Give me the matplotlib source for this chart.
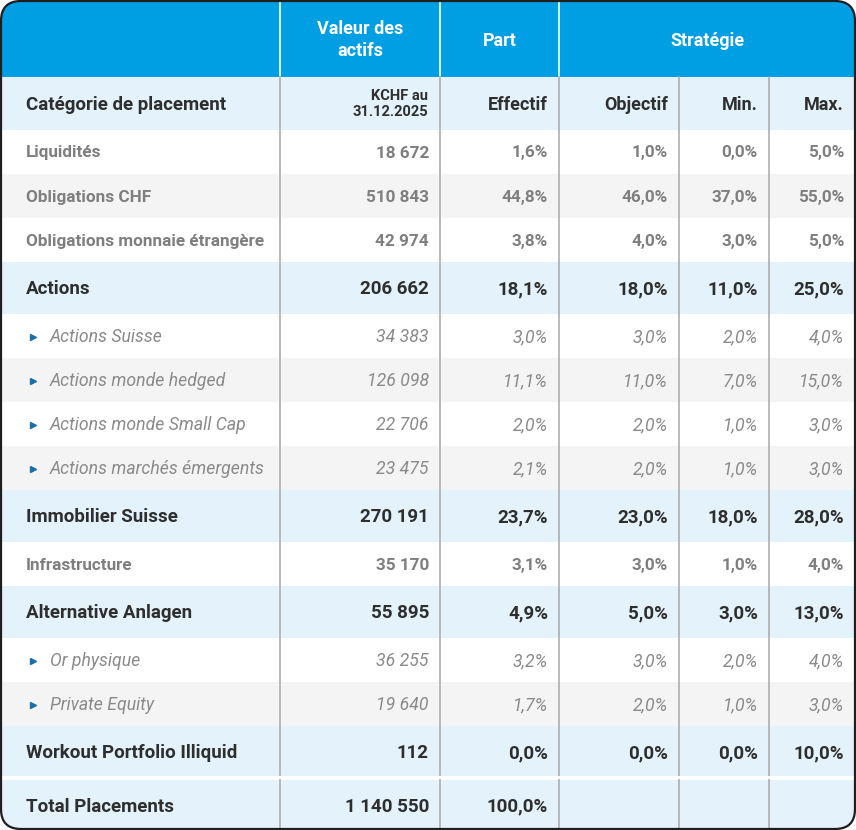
import matplotlib.pyplot as plt
from matplotlib.patches import FancyBboxPatch, Rectangle

plt.rcParams['font.family'] = ['Roboto', 'DejaVu Sans']

# donnees du tableau
categories = ['Liquidités', 'Obligations CHF', 'Obligations monnaie étrangère', 'Actions',
              'Actions Suisse', 'Actions monde hedged', 'Actions monde Small Cap',
              'Actions marchés émergents', 'Immobilier Suisse', 'Infrastructure',
              'Alternative Anlagen', 'Or physique', 'Private Equity',
              'Workout Portfolio Illiquid', 'Total Placements']
# 0 = ligne simple, 1 = groupe (gras), 2 = sous-ligne (italique)
kinds = [0, 0, 0, 1, 2, 2, 2, 2, 1, 0, 1, 2, 2, 1, 1]
valeurs = ['18 672', '510 843', '42 974', '206 662', '34 383', '126 098', '22 706', '23 475',
           '270 191', '35 170', '55 895', '36 255', '19 640', '112', '1 140 550']
effectif = ['1,6%', '44,8%', '3,8%', '18,1%', '3,0%', '11,1%', '2,0%', '2,1%',
            '23,7%', '3,1%', '4,9%', '3,2%', '1,7%', '0,0%', '100,0%']
objectif = ['1,0%', '46,0%', '4,0%', '18,0%', '3,0%', '11,0%', '2,0%', '2,0%',
            '23,0%', '3,0%', '5,0%', '3,0%', '2,0%', '0,0%', '']
mins = ['0,0%', '37,0%', '3,0%', '11,0%', '2,0%', '7,0%', '1,0%', '1,0%',
        '18,0%', '1,0%', '3,0%', '2,0%', '1,0%', '0,0%', '']
maxs = ['5,0%', '55,0%', '5,0%', '25,0%', '4,0%', '15,0%', '3,0%', '3,0%',
        '28,0%', '4,0%', '13,0%', '4,0%', '3,0%', '10,0%', '']

W, H = 856, 830
col_x = [0, 280, 440, 559, 679, 769, 855]
BLUE = '#009fe3'
LIGHT = '#e4f3fb'
GRAY_BG = '#f4f4f4'
LINE = '#a8a8a8'
DARK = '#2e2e2e'
MID = '#7f7f7f'

fig = plt.figure(figsize=(W / 100, H / 100), dpi=100)
ax = fig.add_axes([0, 0, 1, 1])
ax.set_xlim(0, W)
ax.set_ylim(H, 0)
ax.axis('off')

frame = FancyBboxPatch((1, 1), W - 2, H - 2, boxstyle='round,pad=0,rounding_size=20',
                       facecolor='white', edgecolor='none', zorder=0)
ax.add_patch(frame)

def cell(x0, y0, x1, y1, color):
    r = Rectangle((x0, y0), x1 - x0, y1 - y0, facecolor=color, edgecolor='none', zorder=1)
    ax.add_patch(r)
    r.set_clip_path(frame)

# en-tete bleu
cell(0, 0, W, 77, BLUE)
for x in col_x[1:4]:
    ax.plot([x, x], [0, 77], color='white', lw=1.2, zorder=3)
hdr = dict(color='white', fontsize=13, fontweight='bold', ha='center', va='center', zorder=4)
ax.text(360, 40, 'Valeur des\nactifs', linespacing=1.35, **hdr)
ax.text(499.5, 41, 'Part', **hdr)
ax.text(707, 41, 'Stratégie', **hdr)

# sous-en-tete
cell(0, 77, W, 130, LIGHT)
ax.text(26, 105, 'Catégorie de placement', color=DARK, fontsize=13.5, fontweight='bold',
        va='center', zorder=4)
ax.text(428, 104, 'KCHF au\n31.12.2025', color=DARK, fontsize=10.5, fontweight='bold',
        ha='right', va='center', linespacing=1.25, zorder=4)
for lab, x in zip(['Effectif', 'Objectif', 'Min.', 'Max.'], col_x[3:]):
    ax.text(x - 11, 105, lab, color=DARK, fontsize=13, fontweight='bold',
            ha='right', va='center', zorder=4)

# lignes du corps
y = 130
plain_idx = 0
for i, cat in enumerate(categories):
    k = kinds[i]
    h = 52 if k == 1 else 44
    if i == len(categories) - 1:
        y += 2
        h = 51
    if k == 1:
        bg = LIGHT
        plain_idx = 0
    else:
        bg = 'white' if plain_idx % 2 == 0 else GRAY_BG
        plain_idx += 1
    cell(0, y, W, y + h, bg)
    yc = y + h / 2 + 1
    if k == 1:
        st = dict(color=DARK, fontsize=13.5, fontweight='bold')
    elif k == 2:
        st = dict(color='#8a8a8a', fontsize=12.7, fontstyle='italic')
    else:
        st = dict(color=MID, fontsize=12.3, fontweight='bold')
    if k == 2:
        ax.plot(33, yc, marker='>', color='#1a6fa8', markersize=3.8, zorder=4)
        ax.text(50, yc, cat, va='center', zorder=4, **st)
    else:
        ax.text(26, yc, cat, va='center', zorder=4, **st)
    row = [valeurs[i], effectif[i], objectif[i], mins[i], maxs[i]]
    for j, val in enumerate(row):
        ax.text(col_x[j + 2] - 11, yc, val, ha='right', va='center', zorder=4, **st)
    y += h

# separateurs verticaux
for x in col_x[1:6]:
    ax.plot([x, x], [77, H], color=LINE, lw=1.1, zorder=3)
ax.plot([0, W], [777, 777], color='white', lw=2.2, zorder=3)

# bordure arrondie
border = FancyBboxPatch((1, 1), W - 2, H - 2, boxstyle='round,pad=0,rounding_size=20',
                        facecolor='none', edgecolor='#1e1e1e', lw=1.6, zorder=5)
ax.add_patch(border)

fig.savefig('out.png', dpi=100)
